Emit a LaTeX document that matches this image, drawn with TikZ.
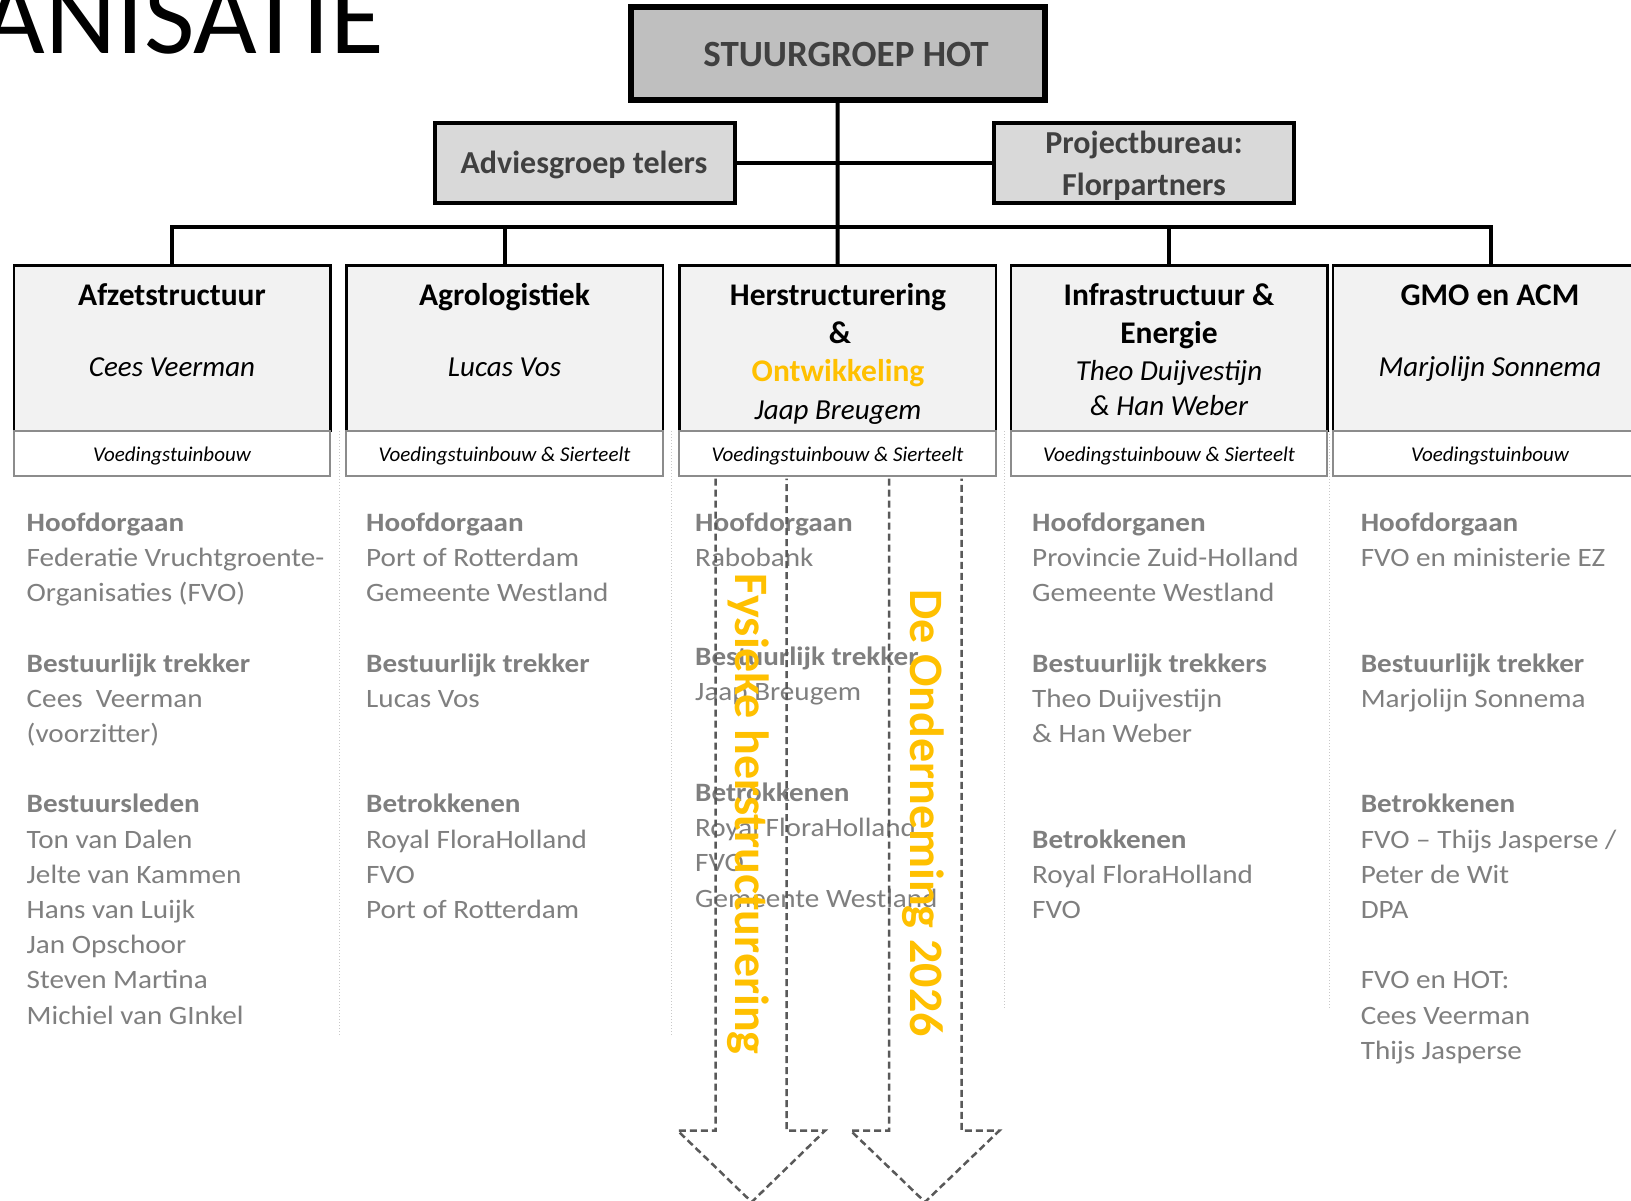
\documentclass[tikz,border=0pt]{standalone}
\usepackage{fontspec}
\setmainfont{Carlito}
\newfontfamily\widefont[FakeStretch=1.1]{Carlito}
\definecolor{dk}{HTML}{404040}
\definecolor{txtgray}{HTML}{7F7F7F}
\definecolor{orng}{HTML}{FFC000}
\definecolor{boxfill}{HTML}{F2F2F2}
\definecolor{stuurfill}{HTML}{BFBFBF}
\definecolor{subfill}{HTML}{D9D9D9}
\definecolor{lowborder}{HTML}{8C8C8C}
\definecolor{sepcol}{HTML}{C8C8C8}
\definecolor{arrowcol}{HTML}{595959}
\begin{document}
\begin{tikzpicture}[x=1pt,y=-1pt,
  conn/.style={line width=4pt, draw=black},
  upbox/.style={draw=black, line width=2.5pt, fill=boxfill, minimum width=316.5pt, minimum height=165.5pt, inner sep=0pt},
  lowbox/.style={draw=lowborder, line width=2pt, fill=white, minimum width=316.5pt, minimum height=45pt, inner sep=0pt},
  lowtxt/.style={anchor=base, inner sep=0pt, font=\fontsize{21}{25}\selectfont\itshape},
  subbox/.style={draw=black, line width=4pt, fill=subfill, minimum width=299.5pt, minimum height=80.3pt, inner sep=0pt},
  ttl/.style={anchor=base, inner sep=0pt, font=\fontsize{31.5}{37}\selectfont\bfseries},
  nm/.style={anchor=base, inner sep=0pt, font=\fontsize{29}{35}\selectfont\itshape},
  subtxt/.style={anchor=base, inner sep=0pt, text=dk, font=\fontsize{32}{38}\selectfont\bfseries},
  col/.style={anchor=north west, inner sep=0pt, align=left, text=txtgray, font=\widefont\fontsize{26.5}{35.2}\selectfont},
  sep/.style={draw=sepcol, line width=1pt, dotted},
  darrow/.style={draw=arrowcol, line width=2.5pt, dash pattern=on 7pt off 4pt},
  vtxt/.style={rotate=-90, inner sep=0pt, text=orng, font=\fontsize{48}{57}\selectfont\bfseries}
]
\useasboundingbox (0,0) rectangle (1631,1200);
\clip (0,0) rectangle (1631,1200);
\fill[white] (0,0) rectangle (1631,1200);

% title fragment
\node[anchor=base east, inner sep=0pt, font=\fontsize{110}{120}\selectfont] (title) at (384,53) {ANISATIE};

% top boxes
\node[draw=black, line width=6pt, fill=stuurfill, minimum width=414pt, minimum height=92.4pt, inner sep=0pt] (stuur) at (837.7,53.5) {};
\node[anchor=base, inner sep=0pt, text=dk, font=\fontsize{37}{44}\selectfont\bfseries] (stuurtxt) at (846,66.7) {STUURGROEP HOT};

\node[subbox] (advies) at (584.8,162.85) {};
\node[subtxt] (adviestxt) at (584,173.5) {Adviesgroep telers};
\node[subbox] (proj) at (1143.8,162.85) {};
\node[subtxt] (projtxt1) at (1144,153) {Projectbureau:};
\node[subtxt] (projtxt2) at (1144,195.5) {Florpartners};

% werkgroep boxes
\node[upbox] (b1) at (172,348) {};
\node[upbox] (b2) at (504.5,348) {};
\node[upbox] (b3) at (837.5,348) {};
\node[upbox] (b4) at (1169,348) {};
\node[upbox] (b5) at (1491,348) {};

\node[lowbox] (s1) at (172,453.5) {};
\node[lowbox] (s2) at (504.5,453.5) {};
\node[lowbox] (s3) at (837.5,453.5) {};
\node[lowbox] (s4) at (1169,453.5) {};
\node[lowbox] (s5) at (1491,453.5) {};
\node[lowtxt] (l1) at (172,461) {Voedingstuinbouw};
\node[lowtxt] (l2) at (504.5,461) {Voedingstuinbouw \& Sierteelt};
\node[lowtxt] (l3) at (837.5,461) {Voedingstuinbouw \& Sierteelt};
\node[lowtxt] (l4) at (1169,461) {Voedingstuinbouw \& Sierteelt};
\node[lowtxt] (l5) at (1490,461) {Voedingstuinbouw};

% connectors
\coordinate (bus) at (838,226.7);
\draw[conn] (stuur.south) -- (b3.north);
\draw[conn] (advies.east) -- (proj.west);
\draw[conn] (b1.north) |- (bus) -| (b5.north);
\draw[conn] (b2.north) -- (b2.north |- bus);
\draw[conn] (b4.north) -- (b4.north |- bus);

% box titles
\node[ttl] (t1) at (172,305.5) {Afzetstructuur};
\node[nm]  (n1) at (172,376.5) {Cees Veerman};
\node[ttl] (t2) at (504.5,305.5) {Agrologistiek};
\node[nm]  (n2) at (504.5,376.5) {Lucas Vos};
\node[ttl] (t3a) at (838,305.5) {Herstructurering};
\node[ttl] (t3b) at (840,343) {\&};
\node[ttl, text=orng] (t3c) at (838,381.5) {Ontwikkeling};
\node[nm]  (n3) at (838,419) {Jaap Breugem};
\node[ttl] (t4a) at (1169,305.5) {Infrastructuur \&};
\node[ttl] (t4b) at (1169,343) {Energie};
\node[nm]  (n4a) at (1169,380) {Theo Duijvestijn};
\node[nm]  (n4b) at (1169,415) {\& Han Weber};
\node[ttl] (t5) at (1490,305.5) {GMO en ACM};
\node[nm]  (n5) at (1490,376.5) {Marjolijn Sonnema};

% separators
\draw[sep] (339,431) -- (339,1035);
\draw[sep] (671,431) -- (671,1035);
\draw[sep] (1004,431) -- (1004,1009);
\draw[sep] (1329.5,431) -- (1329.5,1009);

% column texts
\node[col] (c1) at (26.5,506.5) {\strut\textbf{Hoofdorgaan}\\ Federatie Vruchtgroente-\\ Organisaties (FVO)\\[35.2pt]
\textbf{Bestuurlijk trekker}\\ Cees~ Veerman\\ (voorzitter)\\[35.2pt]
\textbf{Bestuursleden}\\ Ton van Dalen\\ Jelte van Kammen\\ Hans van Luijk\\ Jan Opschoor\\ Steven Martina\\ Michiel van GInkel};

\node[col] (c2) at (366,506.5) {\strut\textbf{Hoofdorgaan}\\ Port of Rotterdam\\ Gemeente Westland\\[35.2pt]
\textbf{Bestuurlijk trekker}\\ Lucas Vos\\[70.4pt]
\textbf{Betrokkenen}\\ Royal FloraHolland\\ FVO\\ Port of Rotterdam};

\node[col] (c3) at (695,506.5) {\strut\textbf{Hoofdorgaan}\\ Rabobank\\[63.6pt]
\textbf{Bestuurlijk trekker}\\ Jaap Breugem\\[65.7pt]
\textbf{Betrokkenen}\\ Royal FloraHolland\\ FVO\\ Gemeente Westland};

\node[col] (c4) at (1032,506.5) {\strut\textbf{Hoofdorganen}\\ Provincie Zuid-Holland\\ Gemeente Westland\\[35.2pt]
\textbf{Bestuurlijk trekkers}\\ Theo Duijvestijn\\ \& Han Weber\\[70.4pt]
\textbf{Betrokkenen}\\ Royal FloraHolland\\ FVO};

\node[col] (c5) at (1360.6,506.5) {\strut\textbf{Hoofdorgaan}\\ FVO en ministerie EZ\\[70.4pt]
\textbf{Bestuurlijk trekker}\\ Marjolijn Sonnema\\[70.4pt]
\textbf{Betrokkenen}\\ FVO – Thijs Jasperse /\\ Peter de Wit\\ DPA\\[35.2pt]
FVO en HOT:\\ Cees Veerman\\ Thijs Jasperse};

% dashed block arrows
\draw[darrow] (715.7,478.5) -- (715.7,1130.7) -- (677.7,1130.7) -- (751.7,1202) -- (825,1130.7) -- (786.7,1130.7) -- (786.7,478.5);
\draw[darrow] (889,478.5) -- (889,1130.7) -- (850.7,1130.7) -- (925,1202) -- (999.3,1130.7) -- (961.7,1130.7) -- (961.7,478.5);

\node[vtxt] (fy) at (748,814) {Fysieke herstructurering};
\node[vtxt] (on) at (923,813) {De Onderneming 2026};
\end{tikzpicture}
\end{document}
